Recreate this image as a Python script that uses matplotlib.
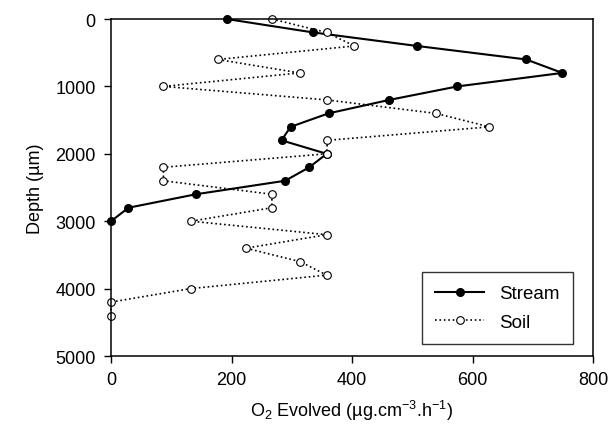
import matplotlib
matplotlib.use('Agg')
import matplotlib.pyplot as plt

plt.rcParams['font.family'] = ['Liberation Sans', 'DejaVu Sans']
plt.rcParams['mathtext.fontset'] = 'custom'
plt.rcParams['mathtext.rm'] = 'Liberation Sans'
plt.rcParams['mathtext.it'] = 'Liberation Sans:italic'

# values
stream_depth = [0, 200, 400, 600, 800, 1000, 1200, 1400, 1600, 1800, 2000,
                2200, 2400, 2600, 2800, 3000]
stream_o2 = [192, 336, 508, 689, 749, 575, 462, 361, 298, 283, 358,
             329, 289, 141, 29, 0]

soil_depth = [0, 200, 400, 600, 800, 1000, 1200, 1400, 1600, 1800, 2000,
              2200, 2400, 2600, 2800, 3000, 3200, 3400, 3600, 3800, 4000,
              4200, 4400]
soil_o2 = [267, 358, 404, 177, 313, 87, 358, 539, 628, 359, 358,
           87, 87, 267, 267, 133, 358, 224, 314, 358, 132, 0, 0]

fig = plt.figure(figsize=(6.12, 4.35), dpi=100)
ax = fig.add_axes([0.1814, 0.1793, 0.7876, 0.7747])

ax.plot(stream_o2, stream_depth, color='black', lw=1.5, marker='o',
        markersize=5.5, markerfacecolor='black', label='Stream', clip_on=False)
ax.plot(soil_o2, soil_depth, color='black', lw=1.2, ls=':', marker='o',
        markersize=5.5, markerfacecolor='white', markeredgewidth=0.8,
        label='Soil', clip_on=False)

ax.set_xlim(0, 800)
ax.set_ylim(5000, 0)
ax.set_xticks([0, 200, 400, 600, 800])
ax.set_yticks([0, 1000, 2000, 3000, 4000, 5000])
ax.tick_params(direction='out', length=5, width=1, labelsize=13, pad=6)
for s in ax.spines.values():
    s.set_linewidth(1.1)

ax.set_xlabel('O$_2$ Evolved (\u00b5g.cm$^{-3}$.h$^{-1}$)', fontsize=13, labelpad=7)
ax.set_ylabel('Depth (\u00b5m)', fontsize=13, labelpad=8)

leg = ax.legend(loc='lower right', bbox_to_anchor=(0.958, 0.036), fontsize=13.5,
                frameon=True, fancybox=False, edgecolor='black',
                handlelength=2.6, borderpad=0.7, labelspacing=0.6,
                borderaxespad=0)
leg.get_frame().set_linewidth(1.0)

fig.savefig('out.png', dpi=100)
